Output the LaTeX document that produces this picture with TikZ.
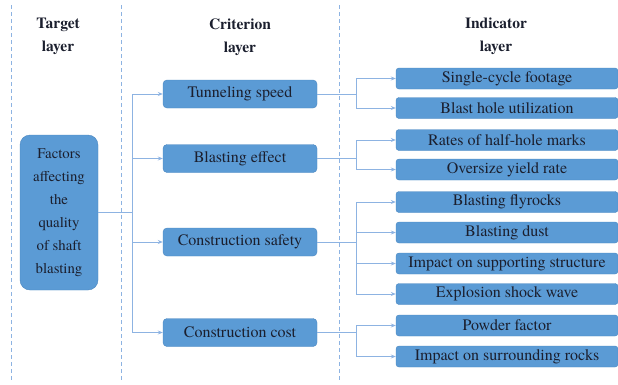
\documentclass[tikz,border=0pt]{standalone}
\usepackage{fontspec}
\setmainfont{TeX Gyre Termes}
\usetikzlibrary{positioning,arrows.meta}
\definecolor{boxblue}{HTML}{5B9BD5}
\definecolor{edgeblue}{HTML}{4A86C0}
\definecolor{lineblue}{HTML}{8DB3E2}
\definecolor{inkcol}{HTML}{1B1F2E}

\begin{document}
\begin{tikzpicture}[x=1pt, y=-1pt,
				crit/.style={rectangle, rounded corners=4pt, fill=boxblue, draw=edgeblue, minimum width=154pt, minimum height=28pt, inner sep=0pt, text=inkcol, font=\fontsize{16}{18}\selectfont},
				ind/.style={rectangle, rounded corners=3pt, fill=boxblue, draw=edgeblue, minimum width=222pt, minimum height=21pt, inner sep=0pt, text=inkcol, font=\fontsize{16}{18}\selectfont},
				goal/.style={rectangle, rounded corners=10pt, fill=boxblue, draw=edgeblue, minimum width=78pt, minimum height=155pt, inner sep=0pt, align=center, text=inkcol, font=\fontsize{14.8}{23}\selectfont},
				head/.style={align=center, text=inkcol, font=\fontsize{15.5}{23}\selectfont\bfseries},
				sep/.style={lineblue, dash pattern=on 4pt off 3pt, line width=0.8pt},
				link/.style={lineblue, line width=0.8pt},
				arr/.style={link, -{Stealth[length=5pt, width=4pt]}}
			]
			\useasboundingbox (0,0) rectangle (618,384);
			% layer separators
			\coordinate (sepatop) at (11,5);
			\coordinate (sepabot) at (11,380);
			\coordinate (sepbtop) at (121,5);
			\coordinate (sepbbot) at (121,380);
			\coordinate (sepctop) at (339,5);
			\coordinate (sepcbot) at (339,380);
			\draw[sep] (sepatop) -- (sepabot);
			\draw[sep] (sepbtop) -- (sepbbot);
			\draw[sep] (sepctop) -- (sepcbot);
			% headings
			\node[head] (hgoal) at (58,36) {Target\\layer};
			\node[head] (hcrit) at (240,37) {Criterion\\layer};
			\node[head] (hind) at (496,36) {Indicator\\layer};
			% target layer
			\node[goal] (goalbox) at (59,212.5) {Factors\\affecting\\the\\quality\\of shaft\\blasting};
			% criterion layer
			\node[crit] (speed) at (240,94) {Tunneling speed};
			\node[crit] (effect) at (240,158.5) {Blasting effect};
			\node[crit] (safety) at (240,242) {Construction safety};
			\node[crit] (cost) at (240,332.5) {Construction cost};
			% indicator layer
			\node[ind] (footage) at (507,78.5) {Single-cycle footage};
			\node[ind] (holeuse) at (507,108) {Blast hole utilization};
			\node[ind] (halfhole) at (507,140) {Rates of half-hole marks};
			\node[ind] (oversize) at (507,169.5) {Oversize yield rate};
			\node[ind] (flyrock) at (507,202) {Blasting flyrocks};
			\node[ind] (dust) at (507,232.5) {Blasting dust};
			\node[ind] (support) at (507,263.5) {Impact on supporting structure};
			\node[ind] (shock) at (507,294) {Explosion shock wave};
			\node[ind] (powder) at (507,325.5) {Powder factor};
			\node[ind] (rocks) at (507,356.5) {Impact on surrounding rocks};
			% trunk from target to criteria
			\coordinate (trunk) at (132,212.5);
			\draw[link] (goalbox.east) -- (trunk);
			\draw[link] (trunk |- speed) -- (trunk |- cost);
			\foreach \c in {speed, effect, safety, cost}
				\draw[arr] (trunk |- \c) -- (\c.west);
			% branches from criteria to indicators
			\coordinate (fork) at (356,0);
			\foreach \c/\a/\b in {speed/footage/holeuse, effect/halfhole/oversize, safety/flyrock/shock, cost/powder/rocks} {
				\draw[link] (\c.east) -- (fork |- \c);
				\draw[link] (fork |- \a) -- (fork |- \b);
			}
			\foreach \i in {footage, holeuse, halfhole, oversize, flyrock, dust, support, shock, powder, rocks}
				\draw[arr] (fork |- \i) -- (\i.west);
			\end{tikzpicture}
\end{document}
